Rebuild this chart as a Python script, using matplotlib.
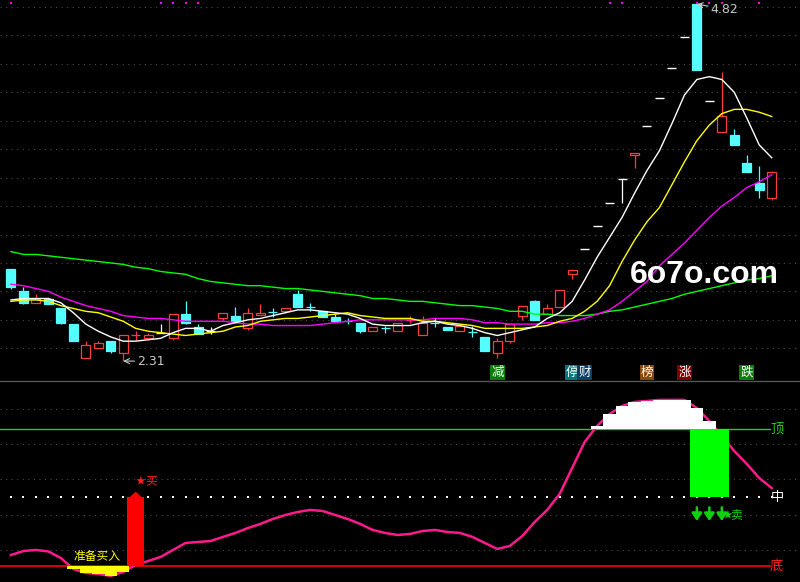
import matplotlib
matplotlib.use('Agg')
import matplotlib.pyplot as plt
import matplotlib.transforms as mtransforms
from matplotlib.patches import Rectangle, Polygon
from matplotlib.lines import Line2D
import numpy as np

plt.rcParams['font.family'] = ['Noto Sans CJK SC', 'DejaVu Sans']

# ---------------- data ----------------
opens = [2.96, 2.80, 2.72, 2.75, 2.68, 2.57, 2.33, 2.40, 2.45, 2.37,
         2.490, 2.47, 2.51, 2.47, 2.64, 2.55, 2.52, 2.61, 2.63, 2.54,
         2.635, 2.656, 2.66, 2.78, 2.691, 2.66, 2.62, 2.593, 2.58, 2.52,
         2.544, 2.52, 2.599, 2.49, 2.579, 2.55, 2.52, 2.516, 2.48, 2.37,
         2.45, 2.63, 2.73, 2.64, 2.69, 2.92, 3.10, 3.26, 3.42, 3.59,
         3.76, 3.96, 4.16, 4.37, 4.59, 4.82, 4.14, 3.92, 3.90, 3.70,
         3.56, 3.46]
highs = [2.96, 2.83, 2.78, 2.75, 2.68, 2.57, 2.45, 2.45, 2.45, 2.49,
         2.52, 2.51, 2.57, 2.64, 2.73, 2.57, 2.55, 2.65, 2.69, 2.68,
         2.71, 2.68, 2.68, 2.81, 2.72, 2.66, 2.64, 2.61, 2.58, 2.55,
         2.56, 2.58, 2.63, 2.63, 2.61, 2.55, 2.56, 2.56, 2.48, 2.47,
         2.57, 2.70, 2.74, 2.71, 2.81, 2.95, 3.10, 3.26, 3.42, 3.59,
         3.77, 3.96, 4.16, 4.37, 4.59, 4.82, 4.14, 4.34, 3.94, 3.76,
         3.68, 3.65]
lows = [2.82, 2.71, 2.72, 2.71, 2.57, 2.45, 2.33, 2.40, 2.37, 2.31,
        2.46, 2.47, 2.51, 2.46, 2.57, 2.50, 2.50, 2.60, 2.59, 2.53,
        2.635, 2.62, 2.65, 2.69, 2.66, 2.62, 2.59, 2.57, 2.51, 2.52,
        2.51, 2.52, 2.58, 2.49, 2.55, 2.53, 2.52, 2.48, 2.38, 2.33,
        2.44, 2.60, 2.60, 2.64, 2.69, 2.89, 3.10, 3.26, 3.42, 3.42,
        3.67, 3.96, 4.16, 4.37, 4.59, 4.36, 4.14, 3.92, 3.83, 3.64,
        3.46, 3.44]
closes = [2.83, 2.72, 2.75, 2.71, 2.58, 2.45, 2.42, 2.44, 2.38, 2.49,
          2.492, 2.49, 2.51, 2.64, 2.58, 2.50, 2.52, 2.65, 2.59, 2.65,
          2.645, 2.654, 2.68, 2.69, 2.689, 2.62, 2.59, 2.591, 2.52, 2.55,
          2.542, 2.58, 2.601, 2.58, 2.577, 2.53, 2.56, 2.514, 2.38, 2.45,
          2.57, 2.70, 2.60, 2.68, 2.81, 2.95, 3.10, 3.26, 3.42, 3.59,
          3.77, 3.96, 4.16, 4.37, 4.59, 4.36, 4.14, 4.03, 3.83, 3.64,
          3.51, 3.64]

ma5 = [2.74, 2.75, 2.75, 2.75, 2.72, 2.65, 2.57, 2.52, 2.48, 2.45,
       2.45, 2.46, 2.47, 2.51, 2.54, 2.54, 2.52, 2.56, 2.58, 2.60,
       2.61, 2.63, 2.65, 2.67, 2.67, 2.66, 2.65, 2.64, 2.61, 2.57,
       2.56, 2.56, 2.56, 2.58, 2.59, 2.57, 2.56, 2.54, 2.51, 2.49,
       2.51, 2.53, 2.55, 2.61, 2.65, 2.73, 2.88, 3.04, 3.18, 3.32,
       3.49, 3.65, 3.79, 3.98, 4.18, 4.29, 4.31, 4.29, 4.20, 4.02,
       3.83, 3.74]
ma10 = [2.73, 2.74, 2.74, 2.73, 2.70, 2.68, 2.66, 2.65, 2.62, 2.59,
        2.54, 2.52, 2.51, 2.50, 2.49, 2.50, 2.51, 2.52, 2.55, 2.56,
        2.59, 2.60, 2.61, 2.61, 2.62, 2.63, 2.64, 2.65, 2.63, 2.62,
        2.61, 2.61, 2.61, 2.59, 2.59, 2.58, 2.57, 2.56, 2.54, 2.54,
        2.54, 2.54, 2.55, 2.56, 2.59, 2.61, 2.66, 2.73, 2.84, 3.01,
        3.16, 3.29, 3.39, 3.55, 3.71, 3.86, 3.97, 4.05, 4.08, 4.08,
        4.06, 4.03]
ma20 = [2.85, 2.84, 2.82, 2.80, 2.76, 2.73, 2.70, 2.68, 2.66, 2.63,
        2.62, 2.61, 2.61, 2.60, 2.59, 2.59, 2.59, 2.59, 2.58, 2.57,
        2.57, 2.56, 2.56, 2.56, 2.56, 2.57, 2.58, 2.59, 2.60, 2.60,
        2.60, 2.60, 2.60, 2.60, 2.61, 2.61, 2.61, 2.60, 2.58, 2.58,
        2.57, 2.57, 2.57, 2.58, 2.58, 2.59, 2.61, 2.64, 2.67, 2.73,
        2.80, 2.87, 2.98, 3.06, 3.14, 3.23, 3.32, 3.40, 3.46, 3.53,
        3.57, 3.62]
ma60 = [3.08, 3.06, 3.06, 3.05, 3.04, 3.03, 3.02, 3.01, 3.00, 2.99,
        2.97, 2.96, 2.94, 2.93, 2.92, 2.89, 2.87, 2.86, 2.85, 2.84,
        2.84, 2.83, 2.82, 2.82, 2.81, 2.80, 2.79, 2.78, 2.77, 2.75,
        2.75, 2.74, 2.73, 2.73, 2.72, 2.71, 2.70, 2.70, 2.69, 2.68,
        2.66, 2.66, 2.64, 2.64, 2.63, 2.63, 2.63, 2.64, 2.66, 2.67,
        2.69, 2.71, 2.73, 2.75, 2.78, 2.80, 2.82, 2.84, 2.86, 2.88,
        2.89, 2.91]

indicator = [8.0, 10.9, 11.7, 10.6, 5.8, -2.2, -5.1, -5.8, -7.3, -4.4,
             0.7, 3.6, 6.6, 11.7, 16.8, 17.5, 18.2, 21.2, 24.1, 27.7,
             30.7, 34.3, 37.2, 39.4, 40.9, 40.1, 37.2, 34.3, 30.7, 26.3,
             24.1, 22.6, 23.4, 25.5, 26.3, 24.8, 24.1, 21.2, 16.8, 12.4,
             14.6, 21.9, 32.1, 40.9, 52.6, 71.5, 90.5, 102.2, 110.9, 116.8,
             119.7, 120.4, 121.2, 121.2, 121.2, 115.3, 105.8, 94.9, 83.9, 74.5,
             64.2, 56.9]

top_level = 100
mid_level = 50
bottom_level = 0
buy_idx = [10]
sell_idx = [55, 56, 57]
marker_idx = [0, 12, 13, 14, 15, 48, 49, 55, 56, 57, 60]
tag_idx = [39, 45, 46, 51, 54, 59]
tag_text = ['减', '停', '财', '榜', '涨', '跌']
tag_color = ['#0a7d0a', '#007878', '#0a3f66', '#8a4a06', '#800000', '#0a7d0a']
low_idx, low_val = 9, 2.31
high_idx, high_val = 55, 4.82

# ---------------- figure ----------------
W, H = 800, 582
fig = plt.figure(figsize=(W / 100, H / 100), dpi=100, facecolor='black')
ax1 = fig.add_axes([0, (H - 380) / H, 1, 380 / H])
ax2 = fig.add_axes([0, 0, 1, (H - 381) / H])
for ax in (ax1, ax2):
    ax.set_facecolor('black')
    ax.set_axis_off()
    ax.set_xlim(-0.88, 63.27)
ax1.set_ylim(2.177, 4.849)
ax2.set_ylim(-11.7, 135.0)

n = len(opens)
x = np.arange(n)
grid_kw = dict(color='#4a4a4a', lw=0.8, ls=(0, (1, 4)), zorder=0)
for g in np.arange(2.4, 4.81, 0.2):
    ax1.axhline(g, **grid_kw)
for g in np.linspace(11.7, 114.6, 5):
    ax2.axhline(g, **grid_kw)

fig.add_artist(Line2D([0, 1], [(H - 380.5) / H] * 2, color='#555555', lw=1.0))

RED = '#ff3c3c'
CYAN = '#54ffff'
w = 0.72
for i, (o, h, l, c) in enumerate(zip(opens, highs, lows, closes)):
    if c > o:
        col = RED
    elif c < o:
        col = CYAN
    else:
        col = 'white'
    top, bot = max(o, c), min(o, c)
    if h > top:
        ax1.vlines(i, top, h, color=col, lw=0.9, zorder=2)
    if l < bot:
        ax1.vlines(i, l, bot, color=col, lw=0.9, zorder=2)
    if c == o:
        ax1.hlines(o, i - w / 2, i + w / 2, color=col, lw=1.0, zorder=2)
    else:
        ax1.add_patch(Rectangle((i - w / 2, bot), w, top - bot,
                                facecolor='black' if c > o else col,
                                edgecolor=col, lw=0.9, zorder=2))

ax1.plot(x, ma60, color='#00ff00', lw=1.0, zorder=3)
ax1.plot(x, ma20, color='#ff00ff', lw=1.0, zorder=3)
ax1.plot(x, ma10, color='#ffff00', lw=1.0, zorder=3)
ax1.plot(x, ma5, color='white', lw=1.0, zorder=3)

gray = '#c8c8c8'
ax1.annotate(f'{low_val:.2f}', xy=(low_idx, low_val), xytext=(14, 0),
             textcoords='offset pixels', color=gray, fontsize=9,
             family='DejaVu Sans', va='center', ha='left',
             arrowprops=dict(arrowstyle='->', color=gray, lw=0.8,
                             shrinkA=0, shrinkB=0), zorder=5)
ax1.annotate(f'{high_val:.2f}', xy=(high_idx, high_val), xytext=(14, -5),
             textcoords='offset pixels', color=gray, fontsize=9,
             family='DejaVu Sans', va='center', ha='left',
             arrowprops=dict(arrowstyle='->', color=gray, lw=0.8,
                             shrinkA=0, shrinkB=0), zorder=5)

bt1 = mtransforms.blended_transform_factory(ax1.transData, ax1.transAxes)
for i, t, col in zip(tag_idx, tag_text, tag_color):
    ax1.text(i, 7.5 / 380, t, transform=bt1, color='white', fontsize=9,
             ha='center', va='center', zorder=6,
             bbox=dict(boxstyle='square,pad=0.08', fc=col, ec='none'))
ax1.scatter(marker_idx, [1 - 3 / 380] * len(marker_idx), transform=bt1,
            marker='s', s=2.5, color='#ff00ff', linewidths=0, zorder=6,
            clip_on=False)

fig.text(630 / W, 1 - 283 / H, '6o7o.com', fontsize=23, fontweight='bold',
         color='white', family='Liberation Sans', ha='left', va='baseline')

# ---------------- indicator panel ----------------
GREEN = '#1ed21e'
ax2.axhline(top_level, xmax=770 / W, color=GREEN, lw=1.0, zorder=1)
ax2.axhline(bottom_level, xmax=770 / W, color='#ff0000', lw=1.2, zorder=1)
ax2.scatter(x, [mid_level] * n, marker='s', s=1.5, color='white',
            linewidths=0, zorder=1)

ind = np.array(indicator)
ax2.plot(x, ind, color='#ff1a8c', lw=1.8, zorder=2)
neg = ind < bottom_level
ax2.bar(x[neg], ind[neg] - bottom_level, bottom=bottom_level, width=1.0,
        color='#ffff00', zorder=3)
pos = ind > top_level
ax2.bar(x[pos], ind[pos] - top_level, bottom=top_level, width=1.0,
        color='white', zorder=3)
ax2.bar(sell_idx, top_level - mid_level, bottom=mid_level, width=1.12,
        color='#00ff00', zorder=4)
for b in buy_idx:
    ax2.bar(b, mid_level - bottom_level, bottom=bottom_level, width=1.36,
            color='#ff0000', zorder=4)
    ax2.add_patch(Polygon([(b - 0.42, mid_level), (b, mid_level + 3.6),
                           (b + 0.42, mid_level)], closed=True,
                          color='#ff0000', zorder=4))
    ax2.text(b + 0.39, 62, '★', color='#ff2020', fontsize=7, ha='center',
             va='center', zorder=5)
    ax2.text(b + 1.23, 62, '买', color='#ff2020', fontsize=8.5, ha='center',
             va='center', zorder=5)

for s in sell_idx:
    ax2.annotate('', xy=(s, 32.8), xytext=(s, 42.8),
                 arrowprops=dict(arrowstyle='-|>,head_length=0.45,head_width=0.3',
                                 color='#10d010', lw=1.8,
                                 mutation_scale=10, shrinkA=0, shrinkB=0),
                 zorder=5)
ax2.text(sell_idx[-1] + 0.42, 37.2, '★', color='#10d010', fontsize=7,
         ha='center', va='center', zorder=5)
ax2.text(sell_idx[-1] + 1.18, 37.2, '卖', color='#10d010', fontsize=8.5,
         ha='center', va='center', zorder=5)

ax2.text(6.86, 6.6, '准备买入', color='#ffff00', fontsize=8.5, ha='center',
         va='center', zorder=6)
ax2.text(61.4, top_level, '顶', color=GREEN, fontsize=9.5, ha='center',
         va='center', zorder=6)
ax2.text(61.43, mid_level, '中', color='white', fontsize=9.5, ha='center',
         va='center', zorder=6)
ax2.text(61.4, bottom_level, '底', color='#ff2020', fontsize=9.5,
         ha='center', va='center', zorder=6)

fig.savefig('out.png', dpi=100, facecolor='black')
